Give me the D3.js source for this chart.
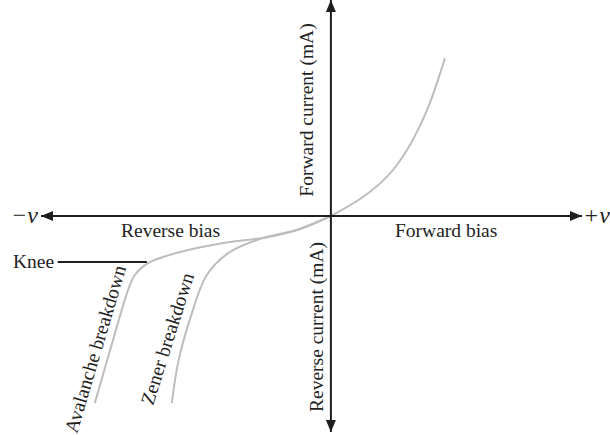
<!DOCTYPE html>
<html>
<head>
<meta charset="utf-8">
<script src="https://cdn.jsdelivr.net/npm/d3@7"></script>
<style>
  html, body { margin: 0; padding: 0; background: #fff; }
  svg { display: block; }
  text { font-family: "Liberation Serif", "DejaVu Serif", serif; fill: #222; }
</style>
</head>
<body>
<svg id="chart" width="610" height="435"></svg>
<script>
// Voltage (x) and current (y) in arbitrary units; origin at the centre of the axes.
const forwardV = [0, 10.9, 19.0, 25.9, 32.7, 38.8];
const forwardI = [0, 8.8, 18.1, 30.6, 49.1, 73.1];

const zenerV = [0, -11.6, -23.1, -34.4, -42.2, -48.0, -52.0, -54.1];
const zenerI = [0, -6.5, -10.2, -16.7, -27.3, -48.1, -68.1, -86.6];

const avalancheV = [0, -11.6, -23.1, -34.4, -45.6, -57.1, -62.2, -66.7, -69.0, -74.1, -80.3];
const avalancheI = [0, -6.5, -10.2, -12.0, -14.8, -19.0, -21.8, -27.3, -34.3, -57.4, -86.6];

const kneeV = [-92.9, -62.6];   // horizontal pointer to the knee
const kneeI = [-21.3, -21.3];

const xDomain = [-98.6, 85.4];
const yDomain = [-100, 100];

const svg = d3.select("#chart");
const x = d3.scaleLinear().domain(xDomain).range([41, 582]);
const y = d3.scaleLinear().domain(yDomain).range([432, 0]);

const axisColor = "#1e1e1e";
const curveColor = "#bdbdbd";
const fs = 19.5;

// arrowheads
const defs = svg.append("defs");
defs.append("marker")
  .attr("id", "arrow")
  .attr("viewBox", "0 0 12 10")
  .attr("refX", 12).attr("refY", 5)
  .attr("markerUnits", "userSpaceOnUse")
  .attr("markerWidth", 13).attr("markerHeight", 10)
  .attr("orient", "auto-start-reverse")
  .append("path")
  .attr("d", "M0,0 L12,5 L0,10 Z")
  .attr("fill", axisColor);

const line = d3.line().x(d => x(d[0])).y(d => y(d[1])).curve(d3.curveCatmullRom.alpha(0.5));
const zip = (a, b) => a.map((v, i) => [v, b[i]]);

// curves
[[forwardV, forwardI], [zenerV, zenerI], [avalancheV, avalancheI]].forEach(([v, i]) => {
  svg.append("path")
    .attr("d", line(zip(v, i)))
    .attr("fill", "none")
    .attr("stroke", curveColor)
    .attr("stroke-width", 2);
});

// axes
svg.append("line")
  .attr("x1", x(xDomain[0])).attr("x2", x(xDomain[1]))
  .attr("y1", y(0)).attr("y2", y(0))
  .attr("stroke", axisColor).attr("stroke-width", 2)
  .attr("marker-start", "url(#arrow)").attr("marker-end", "url(#arrow)");
svg.append("line")
  .attr("x1", x(0)).attr("x2", x(0))
  .attr("y1", y(yDomain[0])).attr("y2", y(yDomain[1]))
  .attr("stroke", axisColor).attr("stroke-width", 2)
  .attr("marker-start", "url(#arrow)").attr("marker-end", "url(#arrow)");

// knee pointer
svg.append("line")
  .attr("x1", x(kneeV[0])).attr("x2", x(kneeV[1]))
  .attr("y1", y(kneeI[0])).attr("y2", y(kneeI[1]))
  .attr("stroke", axisColor).attr("stroke-width", 2);

// labels
svg.append("text").attr("x", 11).attr("y", 223)
  .attr("font-size", 24).style("font-style", "italic").text("\u2212v");
svg.append("text").attr("x", 583).attr("y", 223)
  .attr("font-size", 24).style("font-style", "italic").text("+v");

svg.append("text").attr("x", 121).attr("y", 237).attr("font-size", fs).text("Reverse bias");
svg.append("text").attr("x", 395).attr("y", 237).attr("font-size", fs).text("Forward bias");
svg.append("text").attr("x", 13).attr("y", 268).attr("font-size", fs).text("Knee");

svg.append("text")
  .attr("transform", "translate(313,110) rotate(-90)")
  .attr("text-anchor", "middle").attr("font-size", fs).text("Forward current (mA)");
svg.append("text")
  .attr("transform", "translate(323,327) rotate(-90)")
  .attr("text-anchor", "middle").attr("font-size", fs).text("Reverse current (mA)");

svg.append("text")
  .attr("transform", "translate(77,434) rotate(-73.5)")
  .attr("font-size", fs).text("Avalanche breakdown");
svg.append("text")
  .attr("transform", "translate(153,406) rotate(-72.5)")
  .attr("font-size", fs).text("Zener breakdown");
</script>
</body>
</html>
